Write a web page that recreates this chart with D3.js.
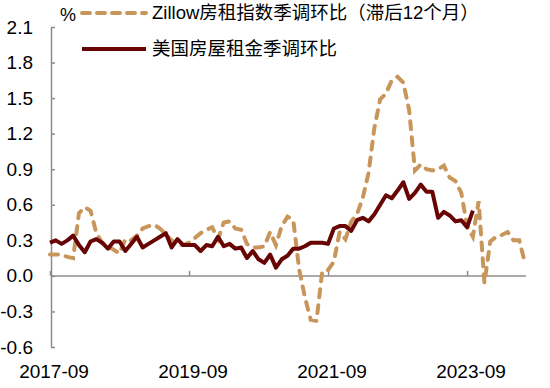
<!DOCTYPE html>
<html>
<head>
<meta charset="utf-8">
<script src="https://cdn.jsdelivr.net/npm/d3@7"></script>
<style>
  body { margin: 0; background: #fff; }
  text { font-family: "Liberation Sans", Arial, "Noto Sans CJK SC", sans-serif; fill: #000; }
</style>
</head>
<body>
<svg id="chart"></svg>
<script>
// months 2017-09 .. 2024-07
const fmt = d3.timeFormat("%Y-%m");
const months = d3.timeMonth.range(new Date(2017, 8, 1), new Date(2024, 7, 1)).map(fmt);

const xTicks = ["2017-09", "2019-09", "2021-09", "2023-09"];
const yTicks = [-0.6, -0.3, 0, 0.3, 0.6, 0.9, 1.2, 1.5, 1.8, 2.1];

const seriesNames = ["Zillow房租指数季调环比（滞后12个月）", "美国房屋租金季调环比"];

// Zillow rent index, seasonally adjusted MoM, lagged 12 months
const zillow = [
    0.18, 0.18, 0.18, 0.16, 0.15, 0.53, 0.58, 0.55, 0.36, 0.28,
    0.25, 0.22, 0.19, 0.31, 0.30, 0.34, 0.40, 0.42, 0.43, 0.40,
    0.35, 0.30, 0.26, 0.26, 0.28, 0.32, 0.36, 0.39, 0.41, 0.31,
    0.45, 0.46, 0.40, 0.39, 0.27, 0.24, 0.24, 0.25, 0.37, 0.26,
    0.42, 0.50, 0.47, 0.06, -0.18, -0.37, -0.38, 0.04, 0.05, 0.12,
    0.37, 0.31, 0.46, 0.52, 0.66, 0.87, 1.25, 1.49, 1.54, 1.65,
    1.68, 1.63, 1.40, 0.89, 0.94, 0.90, 0.89, 0.90, 0.93, 0.83,
    0.80, 0.70, 0.42, 0.33, 0.63, -0.06, 0.29, 0.33, 0.345, 0.37,
    0.30, 0.30, 0.11
];

// US rent, seasonally adjusted MoM
const rent = [
    0.28, 0.30, 0.27, 0.30, 0.34, 0.26, 0.20, 0.29, 0.31, 0.28,
    0.23, 0.29, 0.29, 0.21, 0.27, 0.33, 0.24, 0.27, 0.30, 0.33,
    0.36, 0.24, 0.31, 0.26, 0.26, 0.26, 0.21, 0.26, 0.25, 0.33,
    0.25, 0.27, 0.23, 0.24, 0.15, 0.21, 0.14, 0.11, 0.18, 0.07,
    0.14, 0.17, 0.23, 0.23, 0.25, 0.28, 0.28, 0.28, 0.27, 0.40,
    0.42, 0.42, 0.38, 0.47, 0.49, 0.46, 0.52, 0.60, 0.68, 0.655,
    0.72, 0.79, 0.65, 0.70, 0.77, 0.71, 0.71, 0.49, 0.54, 0.51,
    0.46, 0.47, 0.41, 0.55
];

const colors = ["#C8965A", "#680404"];

const w = 550, h = 388;
const svg = d3.select("#chart").attr("width", w).attr("height", h);

const x = d3.scalePoint().domain(months).range([50, 525]);
const y = d3.scaleLinear().domain([-0.6, 2.1]).range([347, 27]);

// y axis, ticks pointing inward
svg.append("g")
    .attr("transform", "translate(51,0)")
    .call(d3.axisLeft(y).tickValues(yTicks).tickSizeInner(-4).tickSizeOuter(0)
        .tickPadding(18).tickFormat(d => d.toFixed(1)))
    .call(g => g.selectAll("path, line").attr("stroke", "#8c8c8c").attr("stroke-width", 1.5))
    .call(g => g.selectAll("text").style("font-size", "19px").attr("fill", "#000"));

// x axis line at zero, ticks pointing up
svg.append("g")
    .attr("transform", `translate(0,${y(0)})`)
    .call(d3.axisBottom(x).tickValues(xTicks).tickSizeInner(-5).tickSizeOuter(0).tickFormat(""))
    .call(g => g.select(".domain").attr("d", `M51,0H526`))
    .call(g => g.selectAll("path, line").attr("stroke", "#8c8c8c").attr("stroke-width", 1.5));

// x labels along the bottom
svg.append("g")
    .selectAll("text")
    .data(xTicks)
    .enter()
    .append("text")
    .attr("x", d => x(d) + 4)
    .attr("y", 378)
    .attr("text-anchor", "middle")
    .style("font-size", "19px")
    .text(d => d);

const line = d3.line()
    .x((d, i) => x(months[i]))
    .y(d => y(d));

svg.append("path")
    .datum(zillow)
    .attr("fill", "none")
    .attr("stroke", colors[0])
    .attr("stroke-width", 4)
    .attr("stroke-linecap", "round")
    .attr("stroke-dasharray", "8,8")
    .attr("d", line);

svg.append("path")
    .datum(rent)
    .attr("fill", "none")
    .attr("stroke", colors[1])
    .attr("stroke-width", 4)
    .attr("stroke-linejoin", "round")
    .attr("d", line);

// unit
svg.append("text")
    .attr("x", 60)
    .attr("y", 21)
    .style("font-size", "18px")
    .text("%");

// legend
const legend = svg.append("g");
const legendY = [13, 49];
legend.append("line")
    .attr("x1", 82).attr("x2", 146)
    .attr("y1", legendY[0]).attr("y2", legendY[0])
    .attr("stroke", colors[0]).attr("stroke-width", 4)
    .attr("stroke-linecap", "round").attr("stroke-dasharray", "8,7");
legend.append("line")
    .attr("x1", 82).attr("x2", 146)
    .attr("y1", legendY[1]).attr("y2", legendY[1])
    .attr("stroke", colors[1]).attr("stroke-width", 4);
seriesNames.forEach((name, i) => {
    legend.append("text")
        .attr("x", 152)
        .attr("y", legendY[i])
        .attr("dy", "0.35em")
        .style("font-size", "18.5px")
        .text(name);
});
</script>
</body>
</html>
